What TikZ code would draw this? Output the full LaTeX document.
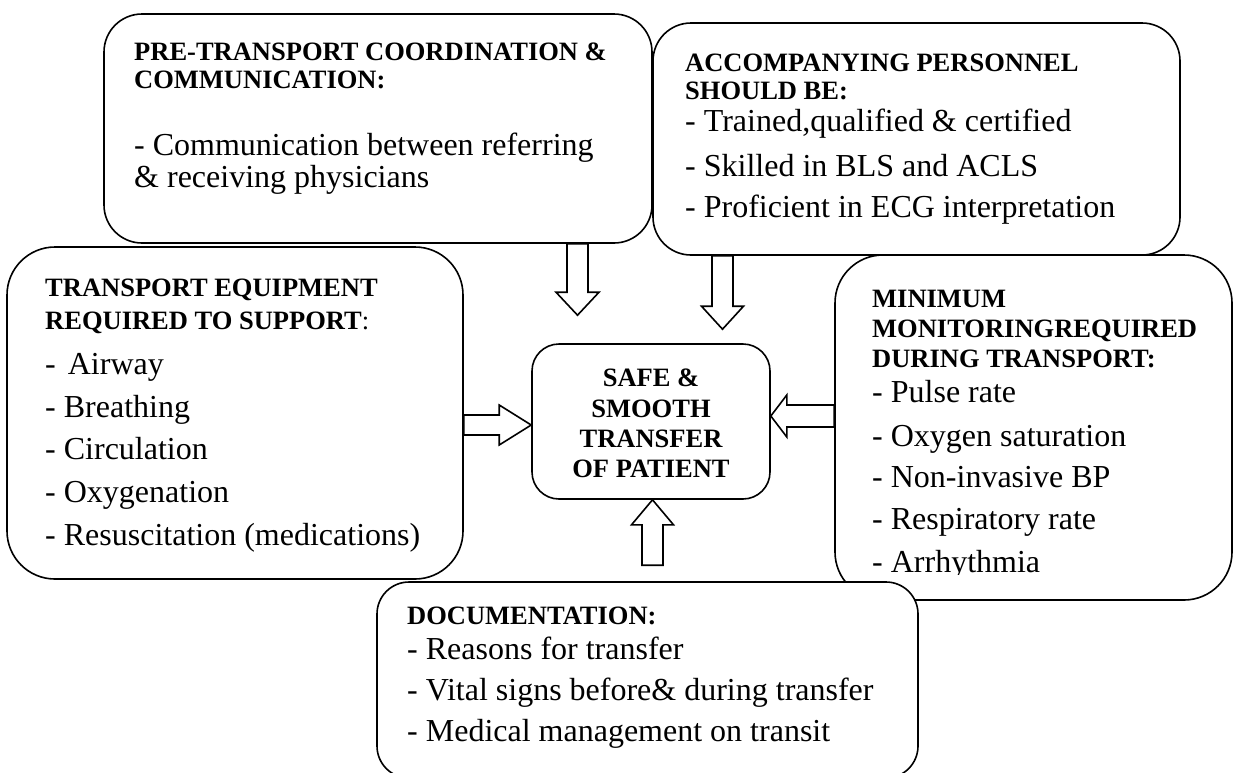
\documentclass[tikz,border=0pt]{standalone}
\usepackage{fontspec}
\setmainfont{Liberation Serif}
\usetikzlibrary{calc}
\tikzset{
  box/.style={draw=black, fill=white, line width=1.6pt, inner sep=0pt},
  hd/.style={anchor=base west, inner sep=0pt, font=\bfseries\fontsize{26.5}{30}\selectfont},
  hdc/.style={anchor=base, inner sep=0pt, font=\bfseries\fontsize{26.5}{30}\selectfont},
  itm/.style={anchor=base west, inner sep=0pt, font=\fontsize{32}{36}\selectfont},
  blockarr/.style={draw=black, fill=white, line width=1.6pt, line join=miter}
}
% tail, tip, half shaft width, half head width, head length
\newcommand\blockarrow[5]{%
\draw[blockarr] let \p1=(#1), \p2=(#2),
  \n1={atan2(\y2-\y1,\x2-\x1)}, \n2={veclen(\x2-\x1,\y2-\y1)}, \n3={\n2-#5} in
  ($(\p1)+({\n1+90}:#3pt)$)
  -- ($(\p1)+({\n1}:\n3)+({\n1+90}:#3pt)$)
  -- ($(\p1)+({\n1}:\n3)+({\n1+90}:#4pt)$)
  -- (\p2)
  -- ($(\p1)+({\n1}:\n3)+({\n1-90}:#4pt)$)
  -- ($(\p1)+({\n1}:\n3)+({\n1-90}:#3pt)$)
  -- ($(\p1)+({\n1-90}:#3pt)$) -- cycle;}

\begin{document}
\begin{tikzpicture}[x=1pt,y=-1pt]
\useasboundingbox (0,0) rectangle (1233,772);
\clip (0,0) rectangle (1233,772);

% Pre-transport box
\node[box, rounded corners=38pt, minimum width=548pt, minimum height=229pt] (pre) at (378,128.5) {};
\node[hd] (pre1) at (134,60) {PRE-TRANSPORT COORDINATION \&};
\node[hd] (pre2) at (134,88) {COMMUNICATION:};
\node[itm] (pre3) at (134,155) {- Communication between referring};
\node[itm] (pre4) at (134,187) {\& receiving physicians};

% Accompanying personnel box
\node[box, rounded corners=38pt, minimum width=527pt, minimum height=232pt] (acc) at (916.5,139) {};
\node[hd] (acc1) at (685,71) {ACCOMPANYING PERSONNEL};
\node[hd] (acc2) at (685,99) {SHOULD BE:};
\node[itm] (acc3) at (685,131) {- Trained,qualified \& certified};
\node[itm] (acc4) at (685,176) {- Skilled in BLS and ACLS};
\node[itm] (acc5) at (685,217) {- Proficient in ECG interpretation};

% Transport equipment box
\node[box, rounded corners=48pt, minimum width=456pt, minimum height=332pt] (trans) at (235,413) {};
\node[hd] (tr1) at (45,296) {TRANSPORT EQUIPMENT};
\node[hd] (tr2) at (45,329) {REQUIRED TO SUPPORT{\mdseries :}};
\node[itm] (tr3) at (45,374) {- \hspace{4pt}Airway};
\node[itm] (tr4) at (45,417) {- Breathing};
\node[itm] (tr5) at (45,459) {- Circulation};
\node[itm] (tr6) at (45,502) {- Oxygenation};
\node[itm] (tr7) at (45,545) {- Resuscitation (medications)};

% Minimum monitoring box
\node[box, rounded corners=48pt, minimum width=397pt, minimum height=345pt] (mon) at (1033.5,427.5) {};
\begin{scope}
\clip (835,255) rectangle (1232,574);
\node[hd] (mo1) at (872,307) {MINIMUM};
\node[hd] (mo2) at (872,337) {MONITORINGREQUIRED};
\node[hd] (mo3) at (872,367) {DURING TRANSPORT:};
\node[itm] (mo4) at (872,402) {- Pulse rate};
\node[itm] (mo5) at (872,446) {- Oxygen saturation};
\node[itm] (mo6) at (872,487) {- Non-invasive BP};
\node[itm] (mo7) at (872,529) {- Respiratory rate};
\node[itm] (mo8) at (872,572) {- Arrhythmia};
\end{scope}

% Centre box
\node[box, rounded corners=27pt, minimum width=238pt, minimum height=155pt] (center) at (651,421.5) {};
\node[hdc] (c1) at (651,386) {SAFE \&};
\node[hdc] (c2) at (651,417) {SMOOTH};
\node[hdc] (c3) at (651,447) {TRANSFER};
\node[hdc] (c4) at (651,477) {OF PATIENT};

% Documentation box
\node[box, rounded corners=32pt, minimum width=541pt, minimum height=196pt] (doc) at (647.5,680) {};
\node[hd] (d1) at (407,624) {DOCUMENTATION:};
\node[itm] (d2) at (407,659) {- Reasons for transfer};
\node[itm] (d3) at (407,700) {- Vital signs before\& during transfer};
\node[itm] (d4) at (407,741) {- Medical management on transit};

% Block arrows
\blockarrow{$(pre.south)+(199.5,0)$}{$(center.north)+(-73.5,-28)$}{10.5}{21.5}{23}
\blockarrow{$(acc.south)+(-194,0)$}{$(center.north)+(71.5,-14)$}{10.5}{21}{23}
\blockarrow{$(trans.east)+(0,12)$}{$(center.west)+(0,3.5)$}{10}{20}{32}
\blockarrow{$(mon.west)+(0,-11.5)$}{$(center.east)+(0,-5.5)$}{11}{21}{16}
\blockarrow{$(doc.north)+(5,-16)$}{$(center.south)+(1.5,0)$}{10.5}{21}{25}
\end{tikzpicture}
\end{document}
